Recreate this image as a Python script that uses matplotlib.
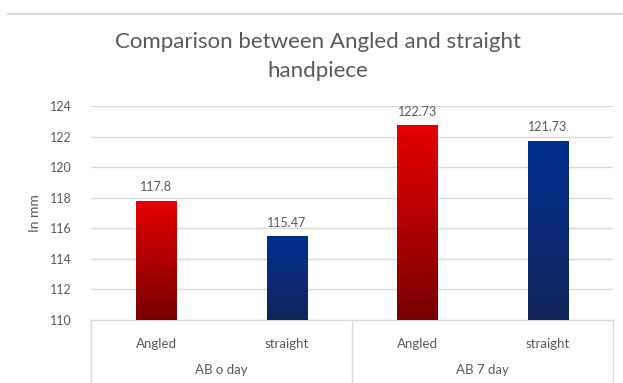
import numpy as np
import matplotlib
matplotlib.use("Agg")
import matplotlib.pyplot as plt
from matplotlib.colors import LinearSegmentedColormap
from matplotlib.lines import Line2D

plt.rcParams['font.family'] = ['Lato', 'DejaVu Sans']

# Data
categories = ["Angled", "straight", "Angled", "straight"]
groups = ["AB o day", "AB 7 day"]
values = [117.8, 115.47, 122.73, 121.73]
value_labels = ["117.8", "115.47", "122.73", "121.73"]
yticks = [110, 112, 114, 116, 118, 120, 122, 124]

TXT = "#595959"
GRID = "#D9D9D9"

fig = plt.figure(figsize=(6.23, 3.83), dpi=100)
ax = fig.add_axes([91 / 623, 1 - 320 / 383, 522 / 623, 214 / 383])

x = np.arange(len(values))
bars = ax.bar(x, [v - 110 for v in values], bottom=110, width=0.31,
              color="none", edgecolor="none", zorder=3)

red_cmap = LinearSegmentedColormap.from_list("red", ["#780000", "#B00000", "#E60000"])
blue_cmap = LinearSegmentedColormap.from_list("blue", ["#102458", "#0B2A78", "#002F8E"])
grad = np.linspace(0, 1, 256).reshape(-1, 1)

for i, b in enumerate(bars):
    cmap = red_cmap if categories[i] == "Angled" else blue_cmap
    x0, y0 = b.get_x(), b.get_y()
    w, h = b.get_width(), b.get_height()
    im = ax.imshow(grad, cmap=cmap, origin="lower", aspect="auto",
                   extent=[x0, x0 + w, y0, y0 + h], zorder=3)
    im.set_clip_path(b)
    ax.text(x0 + w / 2, values[i] + 0.5, value_labels[i], ha="center", va="bottom",
            fontsize=9, color=TXT, zorder=4)

ax.set_xlim(-0.5, len(values) - 0.5)
ax.set_ylim(110, 124)
ax.set_yticks(yticks)
ax.set_yticklabels([str(t) for t in yticks], fontsize=9, color=TXT)
ax.tick_params(axis="y", length=0, pad=14)
ax.yaxis.grid(True, color=GRID, linewidth=1)
ax.set_axisbelow(True)
for s in ["top", "right", "left"]:
    ax.spines[s].set_visible(False)
ax.spines["bottom"].set_color(GRID)
ax.spines["bottom"].set_linewidth(1)

ax.set_xticks(x)
ax.set_xticklabels(categories, fontsize=9.5, color=TXT)
ax.tick_params(axis="x", length=0, pad=13)

ax.set_ylabel("In mm", fontsize=10, color=TXT, labelpad=6)

# Group labels and separators for the two-level category axis
trans = ax.get_xaxis_transform()
for gi, g in enumerate(groups):
    ax.text(gi * 2 + 0.5, -0.235, g, transform=trans, ha="center", va="center",
            fontsize=9.5, color=TXT)
for xv in [-0.5, 1.5, 3.5]:
    ax.add_line(Line2D([xv, xv], [0, -0.29], transform=trans, color=GRID,
                       linewidth=1, clip_on=False))

# Title
fig.text(318 / 623, 1 - 42 / 383, "Comparison between Angled and straight",
         ha="center", va="center", fontsize=16, color=TXT)
fig.text(318 / 623, 1 - 71 / 383, "handpiece",
         ha="center", va="center", fontsize=16, color=TXT)

# Chart area top border
fig.add_artist(Line2D([8 / 623, 1], [1 - 14 / 383, 1 - 14 / 383],
                      transform=fig.transFigure, color=GRID, linewidth=1.5))

fig.savefig("out.png", dpi=100)
